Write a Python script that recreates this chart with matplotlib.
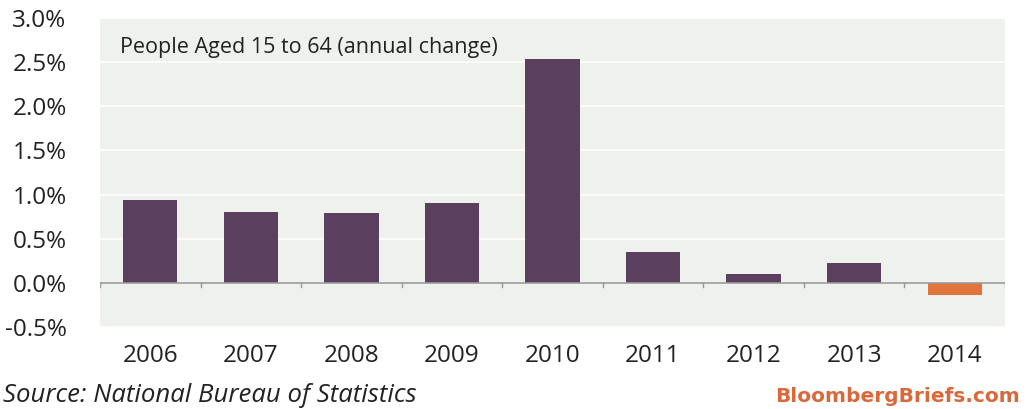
import numpy as np
import matplotlib.pyplot as plt
from matplotlib.ticker import FuncFormatter, MultipleLocator

years = ['2006', '2007', '2008', '2009', '2010', '2011', '2012', '2013', '2014']
change = [0.94, 0.80, 0.79, 0.90, 2.53, 0.35, 0.10, 0.23, -0.14]

purple = '#5b3f5e'
orange = '#e0743a'
bg = '#eef1ec'

fig = plt.figure(figsize=(10.26, 4.09), dpi=100)
ax = fig.add_axes([100 / 1026, 1 - 327 / 409, 905 / 1026, 309 / 409])
ax.set_facecolor(bg)

x = np.arange(len(years))
colors = [purple if v >= 0 else orange for v in change]
ax.bar(x, change, width=0.54, color=colors, zorder=3)

ax.set_xlim(-0.5, len(years) - 0.5)
ax.set_ylim(-0.5, 3.0)
ax.yaxis.set_major_locator(MultipleLocator(0.5))
ax.yaxis.set_major_formatter(FuncFormatter(lambda v, p: f'{v:.1f}%'))
ax.grid(axis='y', color='white', linewidth=1.2, zorder=0)

# zero line with small ticks between the categories
ax.axhline(0, color='#9a9a9a', linewidth=1.2, zorder=4)
for b in np.arange(-0.5, len(years), 1.0):
    ax.plot([b, b], [0, -0.05], color='#9a9a9a', linewidth=1, zorder=4)

for s in ax.spines.values():
    s.set_visible(False)
ax.tick_params(axis='both', length=0, labelsize=17.5, colors='#222222')
ax.tick_params(axis='y', pad=24)
ax.tick_params(axis='x', pad=12)
ax.set_xticks(x, years)
for lab in ax.get_xticklabels() + ax.get_yticklabels():
    lab.set_family('Open Sans')

ax.text(0.022, 0.905, 'People Aged 15 to 64 (annual change)', transform=ax.transAxes,
        fontsize=15.5, family='Open Sans', color='#222222', va='center')

fig.text(3 / 1026, 1 - 395 / 409, 'Source: National Bureau of Statistics',
         fontsize=18.5, style='italic', family='Open Sans', color='#222222', va='center')
fig.text(1020 / 1026, 1 - 397 / 409, 'BloombergBriefs.com', fontsize=14.5,
         weight='bold', family='DejaVu Sans', color='#d9683a', ha='right', va='center')

fig.savefig('out.png', dpi=100, facecolor='white')
